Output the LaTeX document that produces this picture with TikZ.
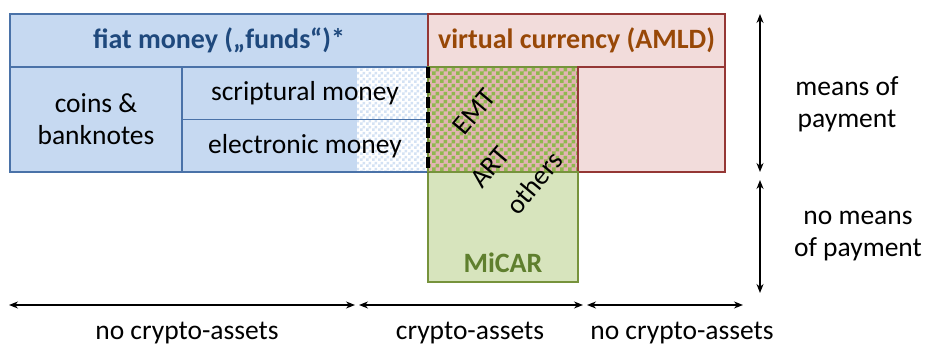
\documentclass[tikz,border=0pt]{standalone}
\usepackage{fontspec}
\setmainfont{Carlito}
\usepackage{tikz}
\usetikzlibrary{positioning, arrows.meta, calc, patterns}

\definecolor{fiatfill}{HTML}{C6D9F1}
\definecolor{fiatline}{HTML}{4A72A8}
\definecolor{fiattext}{HTML}{1F497D}
\definecolor{vcfill}{HTML}{F2DCDB}
\definecolor{vcline}{HTML}{953735}
\definecolor{vctext}{HTML}{984807}
\definecolor{micafill}{HTML}{D7E4BD}
\definecolor{micaline}{HTML}{77933C}
\definecolor{micatext}{HTML}{5F7F2E}
\definecolor{checkgreen}{HTML}{8FB84E}
\definecolor{checkpink}{HTML}{E2B4B3}

\newcommand{\bigtxt}{\fontsize{27.5}{32}\selectfont}
\newcommand{\headtxt}{\fontsize{28}{32}\selectfont\bfseries}

\pgfdeclarepatternformonly{coarsecheck}{\pgfpointorigin}{\pgfqpoint{8pt}{8pt}}{\pgfqpoint{8pt}{8pt}}{%
  \pgfpathrectangle{\pgfpointorigin}{\pgfqpoint{4pt}{4pt}}%
  \pgfpathrectangle{\pgfqpoint{4pt}{4pt}}{\pgfqpoint{4pt}{4pt}}%
  \pgfusepath{fill}}
\pgfdeclarepatternformonly{finecheck}{\pgfpointorigin}{\pgfqpoint{6pt}{6pt}}{\pgfqpoint{6pt}{6pt}}{%
  \pgfpathrectangle{\pgfpointorigin}{\pgfqpoint{3pt}{3pt}}%
  \pgfpathrectangle{\pgfqpoint{3pt}{3pt}}{\pgfqpoint{3pt}{3pt}}%
  \pgfusepath{fill}}

\tikzset{
  box/.style={line width=1.2pt, inner sep=0pt, outer sep=0pt, align=center},
  fiatbox/.style={box, draw=fiatline, fill=fiatfill},
  vcbox/.style={box, draw=vcline, fill=vcfill},
  micabox/.style={box, draw=micaline, fill=micafill},
  checkstrip/.style={path picture={
    \fill[white] ([xshift=-71pt]path picture bounding box.north east) rectangle (path picture bounding box.south east);
    \fill[pattern=finecheck, pattern color=fiatfill!75] ([xshift=-71pt]path picture bounding box.north east) rectangle (path picture bounding box.south east);},
    postaction={draw=fiatline, line width=1.2pt}},
  span/.style={{Stealth[length=9pt, width=7pt]}-{Stealth[length=9pt, width=7pt]}, line width=1.4pt},
}

\begin{document}
\begin{tikzpicture}[x=1pt, y=1pt, every node/.style={font=\bigtxt, inner sep=0pt}]
\useasboundingbox (0,0) rectangle (929,347);

% Headers
\node[fiatbox, minimum width=418pt, minimum height=53pt, text=fiattext, font=\headtxt] (fiat) at (219,306.5) {fiat money („funds“)*};
\node[vcbox, minimum width=297pt, minimum height=53pt, text=vctext, font=\headtxt] (vc) at (576.5,306.5) {virtual currency (AMLD)};

% Fiat money cells
\node[fiatbox, minimum width=172pt, minimum height=105pt, anchor=north west] (coins) at (fiat.south west) {coins \&\\banknotes};
\node[fiatbox, checkstrip, minimum width=246pt, minimum height=52.5pt, anchor=north west] (scrip) at (coins.north east) {scriptural money};
\node[fiatbox, checkstrip, minimum width=246pt, minimum height=52.5pt, anchor=north west] (emoney) at (scrip.south west) {electronic money};

% Crypto-asset cells
\node[box, draw=micaline, preaction={fill=checkpink}, pattern=coarsecheck, pattern color=checkgreen, minimum width=150pt, minimum height=105pt, anchor=north west] (emt) at (vc.south west) {};
\node[vcbox, minimum width=147pt, minimum height=105pt, anchor=north west] (vcrest) at (emt.north east) {};
\node[micabox, minimum width=150pt, minimum height=110pt, anchor=north west] (micar) at (emt.south west) {};
\node[font=\headtxt, text=micatext, above=9pt of micar.south] (micartxt) {MiCAR};

% Border between fiat and crypto
\draw[line width=3.5pt, dash pattern=on 11pt off 4pt] (emt.north west) -- (emt.south west);

% Tokens
\node[rotate=50] (emtlbl) at (474,235) {EMT};
\node[rotate=50] (artlbl) at (490,180) {ART};
\node[rotate=50] (otherslbl) at (534,164) {others};

% Means of payment
\coordinate (mop top) at (760,333);
\coordinate (mop bot) at (760,175);
\coordinate (nmop top) at (760,167);
\coordinate (nmop bot) at (760,54);
\draw[span] (mop top) -- (mop bot);
\draw[span] (nmop top) -- (nmop bot);
\node[align=center] (mop) at (847,243) {means of\\payment};
\node[align=center] (nmop) at (858,111) {no means\\of payment};

% Crypto-assets or not
\coordinate (a0) at (9,42);
\coordinate (a1) at (355,42);
\coordinate (b0) at (359,42);
\coordinate (b1) at (583,42);
\coordinate (c0) at (587,42);
\coordinate (c1) at (743,42);
\draw[span] (a0) -- (a1);
\draw[span] (b0) -- (b1);
\draw[span] (c0) -- (c1);
\node[anchor=base] (noca left) at (187,7.5) {no crypto-assets};
\node[anchor=base] (ca) at (470,7.5) {crypto-assets};
\node[anchor=base] (noca right) at (682,7.5) {no crypto-assets};

\end{tikzpicture}
\end{document}
